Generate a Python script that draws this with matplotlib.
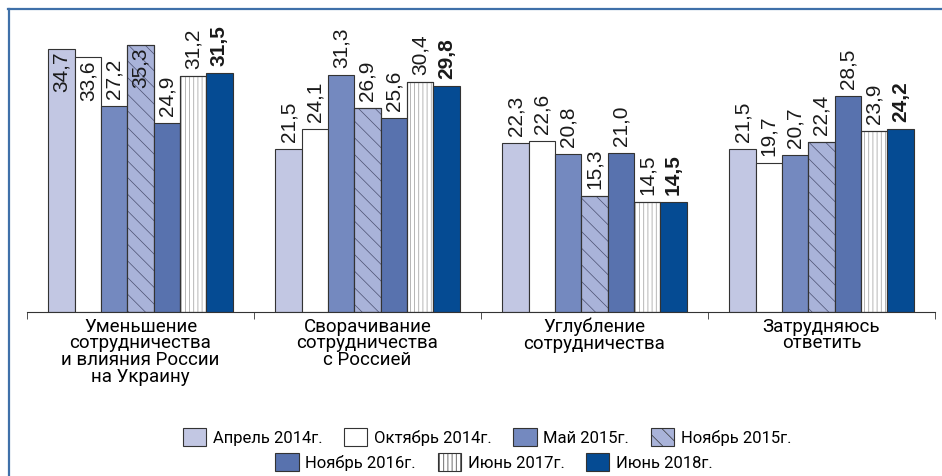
import numpy as np
import matplotlib.pyplot as plt
from matplotlib.patches import Patch
from matplotlib.lines import Line2D

plt.rcParams['font.family'] = ['Roboto', 'DejaVu Sans']
plt.rcParams['hatch.linewidth'] = 0.5

categories = ['Уменьшение\nсотрудничества\nи влияния России\nна Украину',
              'Сворачивание\nсотрудничества\nс Россией',
              'Углубление\nсотрудничества',
              'Затрудняюсь\nответить']
series = ['Апрель 2014г.', 'Октябрь 2014г.', 'Май 2015г.', 'Ноябрь 2015г.',
          'Ноябрь 2016г.', 'Июнь 2017г.', 'Июнь 2018г.']
apr14 = [34.7, 21.5, 22.3, 21.5]
oct14 = [33.6, 24.1, 22.6, 19.7]
may15 = [27.2, 31.3, 20.8, 20.7]
nov15 = [35.3, 26.9, 15.3, 22.4]
nov16 = [24.9, 25.6, 21.0, 28.5]
jun17 = [31.2, 30.4, 14.5, 23.9]
jun18 = [31.5, 29.8, 14.5, 24.2]
values = [apr14, oct14, may15, nov15, nov16, jun17, jun18]

colors = ['#c2c7e3', 'white', '#7489bf', '#a9b3d9', '#5872ae', 'white', '#054b93']
hatches = [None, None, None, '\\\\', None, '||||', None]
hatch_col = ['#333333', '#333333', '#333333', '#4a4f70', '#333333', '#999999', '#333333']

fig = plt.figure(figsize=(9.42, 4.76), dpi=100)
ax = fig.add_axes([27 / 942, 1 - 312 / 476, 908 / 942, 303 / 476])

x = np.arange(len(categories))
w = 0.116
for i, (name, vals) in enumerate(zip(series, values)):
    pos = x + (i - 3) * w
    ax.bar(pos, vals, w, color=colors[i], edgecolor='#333333', linewidth=0.8, label=name)
    if hatches[i]:
        # hatch drawn separately so it can have its own colour
        ax.bar(pos, vals, w, color='none', edgecolor=hatch_col[i], hatch=hatches[i],
               linewidth=0)
        ax.bar(pos, vals, w, color='none', edgecolor='#333333', linewidth=0.8)
    for p, v in zip(pos, vals):
        txt = ('%.1f' % v).replace('.', ',')
        if v > 33:
            off, va = -2, 'top'
        else:
            off, va = 5, 'bottom'
        ax.annotate(txt, (p, v), xytext=(0, off), textcoords='offset points',
                    rotation=90, ha='center', va=va, fontsize=15,
                    family=['Liberation Sans', 'DejaVu Sans'],
                    fontweight='bold' if i == 6 else 'normal', color='#1a1a1a')

ax.set_xlim(-0.5, 3.5)
ax.set_ylim(0, 40)
for s in ['left', 'right', 'top']:
    ax.spines[s].set_visible(False)
ax.spines['bottom'].set_color('#333333')
ax.set_yticks([])
ax.set_xticks(x)
ax.set_xticklabels(categories, fontsize=13.5, color='#000000', linespacing=0.92)
ax.tick_params(axis='x', which='major', length=0, pad=4)
ax.set_xticks(np.arange(-0.5, 4.0, 1.0), minor=True)
ax.tick_params(axis='x', which='minor', length=5, color='#333333', direction='out')

handles = []
for i, name in enumerate(series):
    h = Patch(facecolor=colors[i], edgecolor='#333333', linewidth=0.8,
              hatch=hatches[i], label=name)
    handles.append(h)

leg_kw = dict(frameon=False, handlelength=1.4, handleheight=1.35,
              handletextpad=0.4, columnspacing=1.3, borderpad=0,
              labelcolor='#000000', prop={'size': 12})
leg1 = fig.legend(handles[:4], series[:4], ncol=4, loc='center',
                  bbox_to_anchor=(487 / 942, 1 - 437 / 476), **leg_kw)
leg2 = fig.legend(handles[4:], series[4:], ncol=3, loc='center',
                  bbox_to_anchor=(494 / 942, 1 - 462 / 476), **leg_kw)

# blue frame on left and top
fig.add_artist(Line2D([8.5 / 942, 8.5 / 942], [0, 1 - 9 / 476], transform=fig.transFigure,
                      color='#3f70a9', linewidth=1.6))
fig.add_artist(Line2D([8 / 942, 1], [1 - 9 / 476, 1 - 9 / 476], transform=fig.transFigure,
                      color='#3f70a9', linewidth=1.6))

fig.savefig('out.png', dpi=100)
